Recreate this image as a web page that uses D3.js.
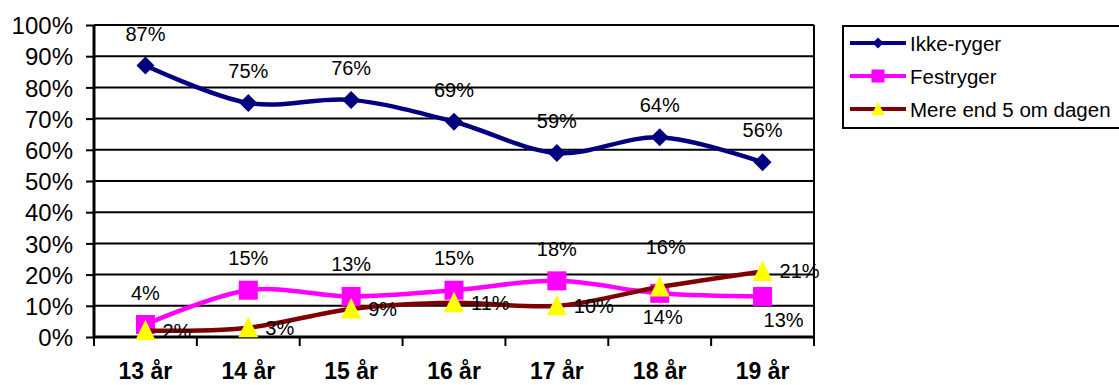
<!DOCTYPE html>
<html><head><meta charset="utf-8">
<script src="https://cdn.jsdelivr.net/npm/d3@7"></script>
<style>html,body{margin:0;padding:0;background:#fff;overflow:hidden}text{font-family:Arial,"Liberation Sans",sans-serif}</style>
</head><body>
<svg id="c" width="1119" height="385"></svg>
<script>
const categories = ["13 år","14 år","15 år","16 år","17 år","18 år","19 år"];
const ikkeRyger = [87,75,76,69,59,64,56];
const festryger = [4,15,13,15,18,14,13];
const mereEnd5 = [2,3,9,11,10,16,21];
const yTicks = [0,10,20,30,40,50,60,70,80,90,100];
const seriesNames = ["Ikke-ryger","Festryger","Mere end 5 om dagen"];
// label placement per point
const festPlace = ["above","above","above","above","above","below","below"];
const merePlace = ["right","right","right","right","right","above","right"];

const svg = d3.select("#c");
const L=94, R=814, T=25, B=337;
const x = d3.scaleBand().domain(categories).range([L,R]);
const y = d3.scaleLinear().domain([0,100]).range([B,T]);
const cx = c => x(c)+x.bandwidth()/2;

// gridlines
svg.append("g").selectAll("line").data(yTicks).join("line")
  .attr("x1",L).attr("x2",R).attr("y1",d=>y(d)).attr("y2",d=>y(d))
  .attr("stroke","#000").attr("stroke-width",2);
// right border
svg.append("line").attr("x1",R).attr("x2",R).attr("y1",T).attr("y2",B).attr("stroke","#000").attr("stroke-width",2);

// y axis
const ya = svg.append("g").attr("transform",`translate(${L},0)`)
  .call(d3.axisLeft(y).tickValues(yTicks).tickFormat(d=>d+"%").tickSize(8).tickPadding(13));
ya.select(".domain").attr("stroke","#000").attr("stroke-width",3).attr("d",`M0,${T}V${B}`);
ya.selectAll(".tick line").attr("stroke","#000").attr("stroke-width",2);
ya.selectAll(".tick text").attr("font-size",24).attr("fill","#000").attr("font-family","Arial, 'Liberation Sans', sans-serif").attr("dy","0.36em");

// x axis
const xa = svg.append("g").attr("transform",`translate(0,${B})`)
  .call(d3.axisBottom(x).tickSize(0).tickPadding(0));
xa.select(".domain").attr("stroke","#000").attr("stroke-width",3).attr("d",`M${L},0H${R}`);
xa.selectAll(".tick text").attr("font-size",23).attr("font-weight","bold").attr("fill","#000")
  .attr("font-family","Arial, 'Liberation Sans', sans-serif").attr("dy",null).attr("y",42);
// boundary ticks
const bounds = categories.map(c=>x(c)).concat([R]);
svg.append("g").selectAll("line").data(bounds).join("line")
  .attr("x1",d=>d).attr("x2",d=>d).attr("y1",B).attr("y2",B+9).attr("stroke","#000").attr("stroke-width",2);

const line = d3.line().x((d,i)=>cx(categories[i])).y(d=>y(d)).curve(d3.curveCardinal.tension(0));

const series = [
  {name:seriesNames[0], vals:ikkeRyger, color:"#000080", marker:"diamond", fill:"#000080"},
  {name:seriesNames[1], vals:festryger, color:"#FF00FF", marker:"square", fill:"#FF00FF"},
  {name:seriesNames[2], vals:mereEnd5, color:"#800000", marker:"triangle", fill:"#FFFF00"}
];
function markerPath(type, s){
  if(type==="diamond") return `M0,${-s}L${s},0L0,${s}L${-s},0Z`;
  if(type==="square") return `M${-s},${-s}H${s}V${s}H${-s}Z`;
  return `M0,${-s*1.1}L${s},${s*0.95}L${-s},${s*0.95}Z`;
}
const msize = {diamond:9, square:9.5, triangle:10};
series.forEach(s=>{
  svg.append("path").attr("d",line(s.vals)).attr("fill","none").attr("stroke",s.color).attr("stroke-width",4.5);
  svg.append("g").selectAll("path").data(s.vals).join("path")
    .attr("transform",(d,i)=>`translate(${cx(categories[i])},${y(d)})`)
    .attr("d",markerPath(s.marker,msize[s.marker])).attr("fill",s.fill);
});

// data labels
const lab = svg.append("g").attr("font-size",20).attr("fill","#000");
ikkeRyger.forEach((v,i)=>{
  lab.append("text").attr("x",cx(categories[i])).attr("y",y(v)-25).attr("text-anchor","middle").text(v+"%");
});
festryger.forEach((v,i)=>{
  const p = festPlace[i];
  const t = lab.append("text").text(v+"%");
  if(p==="above") t.attr("x",cx(categories[i])).attr("y",y(v)-25).attr("text-anchor","middle");
  else t.attr("x",cx(categories[i])+ (i===6?21:3)).attr("y",y(v)+31).attr("text-anchor","middle");
});
mereEnd5.forEach((v,i)=>{
  const p = merePlace[i];
  const t = lab.append("text").text(v+"%");
  if(p==="right") t.attr("x",cx(categories[i])+17).attr("y",y(v)+7).attr("text-anchor","start");
  else t.attr("x",cx(categories[i])+6).attr("y",y(v)-33).attr("text-anchor","middle");
});

// legend
const lg = svg.append("g");
lg.append("rect").attr("x",843).attr("y",26).attr("width",300).attr("height",102).attr("fill","#fff").attr("stroke","#000").attr("stroke-width",2);
const lsize = {diamond:5.5, square:6.5, triangle:6.5};
series.forEach((s,i)=>{
  const ly = 43 + i*33;
  lg.append("line").attr("x1",850).attr("x2",906).attr("y1",ly).attr("y2",ly).attr("stroke",s.color).attr("stroke-width",4);
  lg.append("path").attr("transform",`translate(878,${ly})`).attr("d",markerPath(s.marker,lsize[s.marker])).attr("fill",s.fill);
  lg.append("text").attr("x",910).attr("y",ly+7.5).attr("font-size",20.5).attr("fill","#000").text(s.name);
});
</script>
</body></html>
